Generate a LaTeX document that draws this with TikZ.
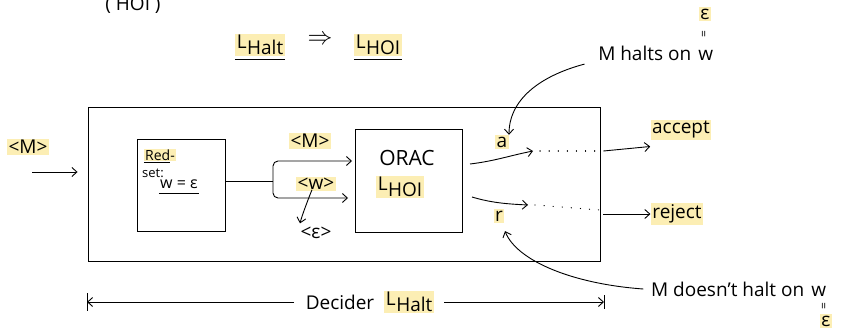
\documentclass[tikz,border=0pt]{standalone}
\usepackage{fontspec}
\setmainfont{Open Sans}
\usetikzlibrary{positioning,arrows.meta}
\definecolor{marker}{RGB}{252,238,180}
\newcommand\Lsub[1]{L\kern0.5pt\raisebox{-6pt}{#1}}
\newcommand\vequal{\rotatebox{90}{\large =}}
\begin{document}
\begin{tikzpicture}[x=1pt, y=-1pt, line width=0.9pt,
    every node/.style={font=\fontsize{19}{22}\selectfont},
    hl/.style={fill=marker, inner sep=1.5pt},
    box/.style={draw, inner sep=0pt},
    arr/.style={-{Straight Barb[length=5pt,width=9pt]}},
    dots/.style={line width=1.2pt, dash pattern=on 0.1pt off 9pt, line cap=round}]
  \useasboundingbox (0,0) rectangle (841,329);
  % cut-off heading
  \node[anchor=base] (heading) at (133,11) {( HOI )};
  % reduction
  \node[hl] (lhalt) at (260,45) {\Lsub{Halt}};
  \node[font=\fontsize{26}{28}\selectfont] (implies) at (320,40) {$\Rightarrow$};
  \node[hl] (lhoi) at (378,45) {\Lsub{HOI}};
  \draw ([yshift=-3pt]lhalt.south west) -- ([yshift=-3pt]lhalt.south east);
  \draw ([yshift=-3pt]lhoi.south west) -- ([yshift=-3pt]lhoi.south east);
  % halting annotation
  \node[anchor=east] (halts) at (695,53) {M halts on};
  \node[anchor=base west, inner sep=0pt] (wtop) at ([xshift=3pt]halts.base east) {w};
  \node (eqtop) at (705,34) {\vequal};
  \node[hl] (epstop) at (705,14) {ε};
  % decider box
  \node[box, minimum width=512, minimum height=154] (decider) at (344,184) {};
  \node[hl] (min) at (28,147) {<M>};
  \draw[arr] ([shift={(4,25)}]min.center) -- ([shift={(-10,-12)}]decider.west);
  % reduction machine
  \node[box, minimum width=88, minimum height=92] (red) at (181,185) {};
  \node[hl, inner sep=1pt, font=\fontsize{14}{16}\selectfont] (redlbl) at (160,155) {Red-};
  \draw ([yshift=-1pt]redlbl.south west) -- ([xshift=-6pt,yshift=-1pt]redlbl.south east);
  \node[inner sep=1pt, font=\fontsize{13}{15}\selectfont] (setlbl) at (153,173) {set:};
  \node[inner sep=1pt, font=\fontsize{16}{18}\selectfont] (weps) at (179,184) {w = ε};
  \draw ([yshift=-4pt]weps.south west) -- ([yshift=-4pt]weps.south east);
  % oracle
  \node[box, minimum width=107, minimum height=103] (orac) at (409,181) {};
  \node[font=\fontsize{21}{24}\selectfont] (oractxt) at (407,158) {ORAC};
  \node[hl] (oraclang) at (400,187) {\Lsub{HOI}};
  % split of the reduction output
  \coordinate (fork) at (273,181);
  \coordinate (inm) at (352,161);
  \coordinate (inw) at (348,198);
  \draw ([yshift=4pt]red.east) -- (fork);
  \draw[arr, rounded corners=5pt] (fork) |- (inm);
  \draw[arr, rounded corners=5pt] (fork) |- (inw);
  \node[hl] (mlbl) at (310,141) {<M>};
  \node[hl] (wlbl) at (316,184) {<w>};
  \node (elbl) at (316,233) {<ε>};
  \draw[arr] ([xshift=-4pt,yshift=2pt]wlbl.south) .. controls +(-4,10) and +(2,-8) .. ([xshift=-16pt]elbl.north);
  % outputs
  \node[hl] (alab) at (502,142) {a};
  \node[hl] (rlab) at (499,216) {r};
  \coordinate (aout) at (470,164);
  \coordinate (aend) at (533,151);
  \coordinate (rout) at (472,197);
  \coordinate (rend) at (528,205);
  \draw[arr] (aout) .. controls +(25,-3) and +(-25,5) .. (aend);
  \draw[arr] (rout) .. controls +(20,6) and +(-20,-1) .. (rend);
  \draw[dots] ([xshift=7pt]aend) -- (decider.east |- aend);
  \draw[dots] ([xshift=7pt]rend) -- ([yshift=-5pt]decider.east |- rend);
  \node[hl] (accept) at (681,130) {accept};
  \node[hl] (reject) at (677,214) {reject};
  \draw[arr] ([xshift=3pt]decider.east |- aend) -- ([yshift=-6pt]accept.south west);
  \draw[arr] ([xshift=3pt]decider.east |- reject) -- (reject.west);
  % annotations to the outputs
  \draw[arr] ([xshift=-10pt]halts.south west) .. controls +(-45,12) and +(0,-35) .. ([xshift=7pt]alab.north);
  \node[anchor=east] (nohalt) at (808,289) {M doesn't halt on};
  \node[anchor=base west, inner sep=0pt] (wbot) at ([xshift=3pt]nohalt.base east) {w};
  \node (eqbot) at (825,306) {\vequal};
  \node[hl] (epsbot) at (826,321) {ε};
  \draw[arr] ([xshift=-4pt]nohalt.west) .. controls +(-70,-5) and +(12,30) .. ([shift={(6,8)}]rlab.south);
  % width of the decider
  \coordinate (dl) at (87,302);
  \coordinate (dr) at (604,302);
  \node (dectxt) at (340,302) {Decider};
  \node[hl, right=6pt of dectxt] (declang) {\Lsub{Halt}};
  \draw[arr] ([xshift=-8pt]dectxt.west) -- (dl);
  \draw[arr] ([xshift=10pt]declang.east |- dr) -- (dr);
  \draw ([yshift=9pt]dl) -- ([yshift=-9pt]dl);
  \draw ([yshift=7pt]dr) -- ([yshift=-7pt]dr);
\end{tikzpicture}
\end{document}
